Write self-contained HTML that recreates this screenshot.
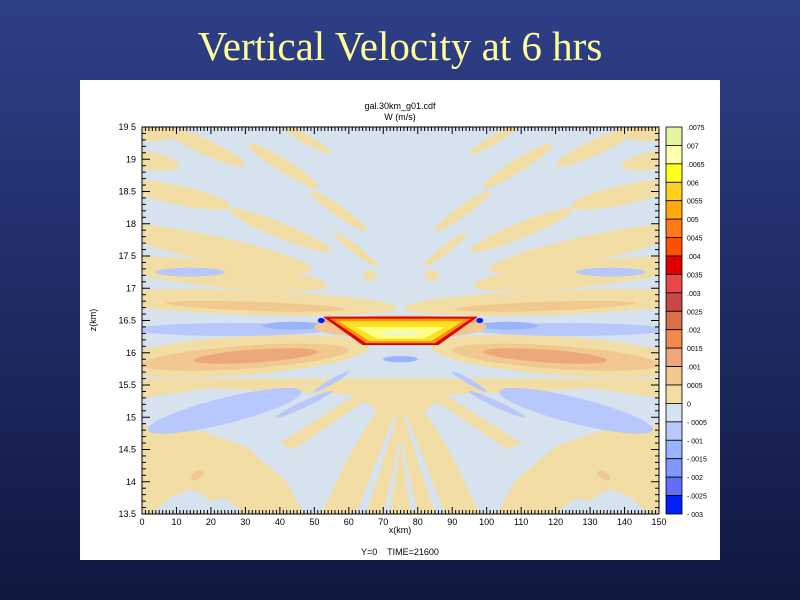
<!DOCTYPE html>
<html><head><meta charset="utf-8"><style>
html,body{margin:0;padding:0;width:800px;height:600px;overflow:hidden;background:linear-gradient(#2f3f88,#0f1840);}
svg{position:absolute;left:0;top:0}
text{font-family:"Liberation Sans",sans-serif;}
</style></head><body>
<svg id="s" width="800" height="600">
<text x="400" y="60" text-anchor="middle" style="font-family:'Liberation Serif',serif" font-size="41" fill="#ffff99">Vertical Velocity at 6 hrs</text>
<rect x="80" y="80" width="640" height="480" fill="#ffffff"/>
<text x="400" y="109" text-anchor="middle" font-size="9">gal.30km_g01.cdf</text>
<text x="400" y="120" text-anchor="middle" font-size="9">W (m/s)</text>
<text x="400" y="533" text-anchor="middle" font-size="9">x(km)</text>
<text x="96" y="320" text-anchor="middle" font-size="9" transform="rotate(-90 96 320)">z(km)</text>
<text x="400" y="555" text-anchor="middle" font-size="9" xml:space="preserve">Y=0    TIME=21600</text>
<g id="field"></g>
<g id="axes"></g>
<g id="cbar"></g>
</svg>
<script>
const xTicks=[0,10,20,30,40,50,60,70,80,90,100,110,120,130,140,150];
const zTicks=[13.5,14,14.5,15,15.5,16,16.5,17,17.5,18,18.5,19,19.5];
const zTickLabels=["13.5","14","14.5","15","15.5","16","16.5","17","17 5","18","18.5","19","19 5"];
const cbarColors=["#e4f4a0","#ffffb0","#ffff20","#ffd020","#ffa810","#ff7818","#ff5000","#e00000","#e84848","#c84848","#d87048","#f08850","#eca878","#f0c890","#f2dea4","#d6e2ee","#b8c8fc","#98b4fc","#8098fc","#6070fc","#0020fc"];
const cbarLabels=[".0075","007",".0065","006","0055","005","0045",".004","0035",".003","0025",".002","0015",".001","0005","0","- 0005","- 001","-.0015","- 002","-.0025","- 003"];
const BG="#d6e2ee",TAN="#f2dea4",OR1="#f0c890",OR2="#eca878",BL1="#b8c8fc",BL2="#98b4fc";
// symmetric shapes (left half, mirrored): [cx km, cz km, rx km, rz km, angle, color]
const ellipsesLeft=[
 [24,15.1,23,0.2,-14,BL1],
 [47,15.2,9,0.05,-25,BL1],[55,15.55,6,0.04,-30,BL1],
 [28,15.95,38,0.3,-4,TAN],[30,15.93,30,0.18,-4,OR1],[33,15.95,18,0.1,-4,OR2],
 [26,16.36,28,0.1,0,BL1],[44,16.42,9,0.06,0,BL2],
 [30,16.78,44,0.19,2,TAN],[33,16.72,26,0.07,2,OR1],
 [22,17.22,32,0.2,6,TAN],[14,17.25,10,0.07,0,BL1],
 [20,17.62,30,0.2,12,TAN],[10,18.45,16,0.15,12,TAN],[0,19.0,11,0.14,10,TAN],
 [18,19.2,13,0.12,25,TAN],[41,18.9,12,0.1,32,TAN],[40,17.9,16,0.12,22,TAN],
 [57,18.2,10,0.08,35,TAN],[48,19.3,8,0.07,30,TAN],[3,19.4,8,0.12,0,TAN],
 [62,17.6,8,0.06,38,TAN],[66,17.2,2,0.08,0,TAN],[16,14.1,2,0.06,-30,OR1]
];
const polysLeft=[
 {c:BG,p:[[3,13.5],[8,13.75],[14,13.88],[17,13.82],[20,13.7],[24,13.75],[30,13.5]]},
 {c:BG,p:[[0,15.3],[0,14.88],[15,14.82],[30,14.55],[42,14.0],[47,13.5],[52,13.5],[60,14.4],[68,15.1],[62,15.35],[45,15.38],[20,15.45]]},
 {c:TAN,p:[[40,14.6],[44,14.5],[66,15.3],[62,15.35]]},
 {c:BG,p:[[62,13.5],[65,13.5],[74,15.0],[73,15.0]]},
 {c:BG,p:[[70,13.5],[72,13.5],[75,14.6],[74.5,14.6]]}
];
const bowl=[
 {c:"#e00000",p:[[52.5,16.56],[97.5,16.56],[86,16.12],[64,16.12]]},
 {c:"#ff9010",p:[[54.5,16.53],[95.5,16.53],[85,16.15],[65,16.15]]},
 {c:"#ffe020",p:[[57,16.49],[93,16.49],[84,16.18],[66,16.18]]},
 {c:"#ffff80",p:[[62,16.4],[88,16.4],[82,16.22],[68,16.22]]}
];
const NS="http://www.w3.org/2000/svg";
const L=142,R=659,T=127,B=514;
const X=k=>L+k*(R-L)/150, Z=z=>B-(z-13.5)*(B-T)/6;
const field=document.getElementById('field');
function mk(tag,attrs,parent){const e=document.createElementNS(NS,tag);for(const k in attrs)e.setAttribute(k,attrs[k]);parent.appendChild(e);return e;}
const clip=mk('clipPath',{id:'pc'},document.getElementById('s'));
mk('rect',{x:L,y:T,width:R-L,height:B-T},clip);
field.setAttribute('clip-path','url(#pc)');
let r=mk('rect',{x:L,y:T,width:R-L,height:B-T,fill:BG},field);


r=mk('rect',{x:L,y:Z(15.6),width:R-L,height:B-Z(15.6),fill:TAN},field);


function poly(p,c,m){const pts=p.map(q=>X(m?150-q[0]:q[0])+','+Z(q[1])).join(' ');const e=mk('polygon',{points:pts,fill:c},field);

}
function ell(a,m){const cx=X(m?150-a[0]:a[0]),cy=Z(a[1]);const e=mk('ellipse',{cx:cx,cy:cy,rx:a[2]*(R-L)/150,ry:a[3]*(B-T)/6,fill:a[5],transform:`rotate(${m?-a[4]:a[4]} ${cx} ${cy})`},field);

}
polysLeft.forEach(o=>{poly(o.p,o.c,false);poly(o.p,o.c,true);});
poly([[52,13.5],[53,13.5],[73,15.3],[72,15.3]],TAN,false);
ellipsesLeft.forEach(a=>{ell(a,false);ell(a,true);});
ell([75,16.4,25,0.18,0,OR1],false);ell([75,16.5,24,0.07,0,OR2],false);
ell([75,15.9,5,0.05,0,BL2],false);
bowl.forEach(o=>poly(o.p,o.c,false));
ell([75,16.3,6,0.04,0,"#f0f8c0"],false);
ell([52,16.5,1,0.04,0,"#0020fc"],false);ell([98,16.5,1,0.04,0,"#0020fc"],false);
const ax=document.getElementById('axes');
mk('rect',{x:L,y:T,width:R-L,height:B-T,fill:'none',stroke:'#000','stroke-width':1},ax);
for(let k=0;k<=150;k++){const x=X(k),len=k%10==0?7:4;
 mk('line',{x1:x,y1:B,x2:x,y2:B-len,stroke:'#000','stroke-width':1},ax);
 mk('line',{x1:x,y1:T,x2:x,y2:T+len,stroke:'#000','stroke-width':1},ax);}
xTicks.forEach(v=>{const t=mk('text',{x:X(v),y:B+11,'text-anchor':'middle','font-size':9},ax);t.textContent=v;

});
for(let i=0;i<=60;i++){const z=13.5+i*0.1,y=Z(z),len=i%5==0?8:4;
 mk('line',{x1:L,y1:y,x2:L+len,y2:y,stroke:'#000','stroke-width':1},ax);
 mk('line',{x1:R,y1:y,x2:R-len,y2:y,stroke:'#000','stroke-width':1},ax);}
zTicks.forEach((v,i)=>{const t=mk('text',{x:L-6,y:Z(v)+3,'text-anchor':'end','font-size':9},ax);t.textContent=zTickLabels[i];

});
const cb=document.getElementById('cbar');const cx0=666,cw=16,h=(B-T)/cbarColors.length;
cbarColors.forEach((c,i)=>{const e=mk('rect',{x:cx0,y:T+i*h,width:cw,height:h,fill:c,stroke:'#000','stroke-width':0.8},cb);

});
cbarLabels.forEach((s,i)=>{const t=mk('text',{x:cx0+21,y:T+i*h+3,'font-size':7},cb);t.textContent=s;

});
</script>
</body></html>
